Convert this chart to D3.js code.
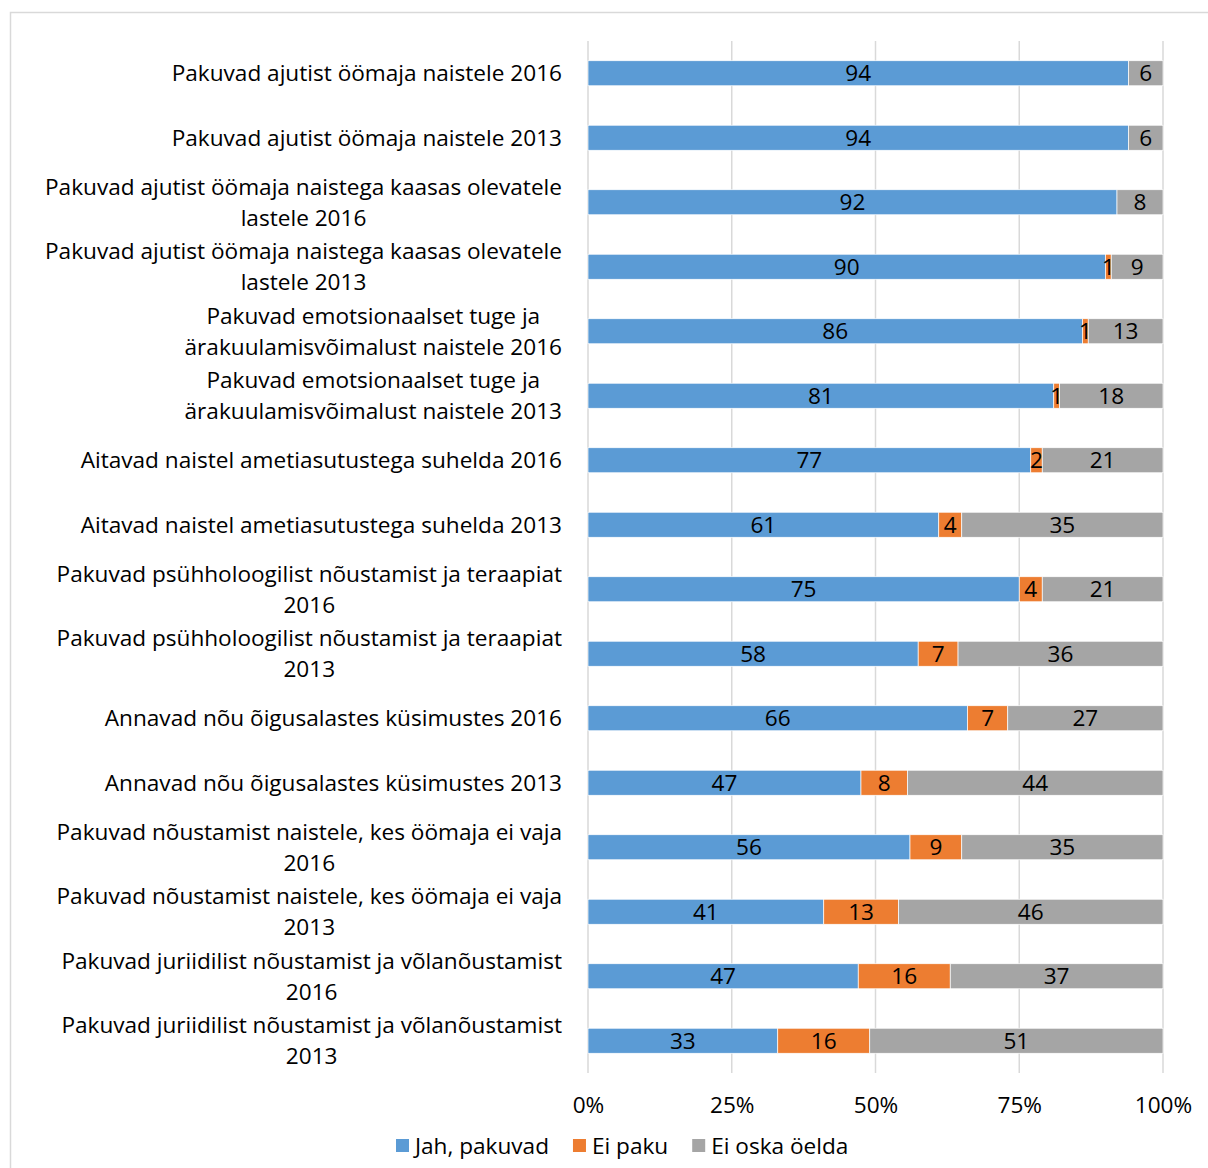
<!DOCTYPE html>
<html><head><meta charset="utf-8">
<script src="https://cdn.jsdelivr.net/npm/d3@7"></script>
<style>body{margin:0;background:#fff} svg{display:block} text{font-family:"Open Sans", Lato, sans-serif;fill:#000}</style>
</head><body><svg id="c" width="1208" height="1168"></svg>
<script>
const categories = [
  "Pakuvad ajutist öömaja naistele 2016",
  "Pakuvad ajutist öömaja naistele 2013",
  "Pakuvad ajutist öömaja naistega kaasas olevatele\nlastele 2016",
  "Pakuvad ajutist öömaja naistega kaasas olevatele\nlastele 2013",
  "Pakuvad emotsionaalset tuge ja\närakuulamisvõimalust naistele 2016",
  "Pakuvad emotsionaalset tuge ja\närakuulamisvõimalust naistele 2013",
  "Aitavad naistel ametiasutustega suhelda 2016",
  "Aitavad naistel ametiasutustega suhelda 2013",
  "Pakuvad psühholoogilist nõustamist ja teraapiat\n2016",
  "Pakuvad psühholoogilist nõustamist ja teraapiat\n2013",
  "Annavad nõu õigusalastes küsimustes 2016",
  "Annavad nõu õigusalastes küsimustes 2013",
  "Pakuvad nõustamist naistele, kes öömaja ei vaja\n2016",
  "Pakuvad nõustamist naistele, kes öömaja ei vaja\n2013",
  "Pakuvad juriidilist nõustamist ja võlanõustamist\n2016",
  "Pakuvad juriidilist nõustamist ja võlanõustamist\n2013"
];
const jahPakuvad = [94, 94, 92, 90, 86, 81, 77, 61, 75, 58, 66, 47, 56, 41, 47, 33];
const eiPaku     = [ 0,  0,  0,  1,  1,  1,  2,  4,  4,  7,  7,  8,  9, 13, 16, 16];
const eiOskaOelda= [ 6,  6,  8,  9, 13, 18, 21, 35, 21, 36, 27, 44, 35, 46, 37, 51];
const seriesNames = ["Jah, pakuvad", "Ei paku", "Ei oska öelda"];
const seriesColors = ["#5B9BD5", "#ED7D31", "#A5A5A5"];
const tickValues = [0, 0.25, 0.5, 0.75, 1];

const svg = d3.select("#c");
const FS = 22.6;

// chart border (extends past the canvas on right and bottom)
svg.append("rect").attr("x", 10.5).attr("y", 12.5).attr("width", 1300).attr("height", 1300)
  .attr("fill", "none").attr("stroke", "#d9d9d9").attr("stroke-width", 1.5);

const rows = categories.map((c, i) => ({cat: c, "Jah, pakuvad": jahPakuvad[i], "Ei paku": eiPaku[i], "Ei oska öelda": eiOskaOelda[i]}));
const stacked = d3.stack().keys(seriesNames).offset(d3.stackOffsetExpand)(rows);

const x = d3.scaleLinear().domain([0, 1]).range([588, 1163]);
const y = d3.scaleBand().domain(categories).range([41, 1073]).paddingInner(0.612).paddingOuter(0.306);

// gridlines
svg.append("g").selectAll("line").data(tickValues).join("line")
  .attr("x1", d => x(d)).attr("x2", d => x(d)).attr("y1", 41).attr("y2", 1073)
  .attr("stroke", "#d9d9d9").attr("stroke-width", 1.5);

// bars
const layers = svg.append("g").selectAll("g").data(stacked).join("g")
  .attr("fill", (d, i) => seriesColors[i]);
layers.selectAll("rect").data(d => d).join("rect")
  .attr("x", d => x(d[0])).attr("width", d => Math.max(0, x(d[1]) - x(d[0])))
  .attr("y", d => y(d.data.cat)).attr("height", y.bandwidth())
  .attr("stroke", "#fff").attr("stroke-width", 0.7);

// value labels
stacked.forEach((layer, si) => {
  svg.append("g").selectAll("text").data(layer.filter(d => d.data[layer.key] > 0)).join("text")
    .attr("x", d => (x(d[0]) + x(d[1])) / 2)
    .attr("y", d => y(d.data.cat) + y.bandwidth() / 2)
    .attr("dy", "0.36em").attr("text-anchor", "middle").attr("font-size", FS)
    .text(d => d.data[layer.key]);
});

// category labels
const labelRight = 562, lineH = 31;
categories.forEach(c => {
  const lines = c.split("\n");
  const g = svg.append("g");
  const cy = y(c) + y.bandwidth() / 2;
  const texts = lines.map((ln, k) => g.append("text").attr("font-size", FS).attr("text-anchor", "middle")
    .attr("y", cy + (k - (lines.length - 1) / 2) * lineH).attr("dy", "0.36em").text(ln));
  const maxW = d3.max(texts, t => t.node().getComputedTextLength());
  texts.forEach(t => t.attr("x", labelRight - maxW / 2));
});

// x axis
const ax = svg.append("g").attr("transform", "translate(0,1073)")
  .call(d3.axisBottom(x).tickValues(tickValues).tickFormat(d3.format(".0%")).tickSize(0).tickPadding(24));
ax.select(".domain").remove();
ax.selectAll("text").attr("font-size", FS).attr("font-family", "'Open Sans', sans-serif").attr("fill", "#000");

// legend
let lx = 396;
const leg = svg.append("g");
seriesNames.forEach((n, i) => {
  leg.append("rect").attr("x", lx).attr("y", 1139).attr("width", 13).attr("height", 13).attr("fill", seriesColors[i]);
  const t = leg.append("text").attr("x", lx + 19).attr("y", 1145.5).attr("dy", "0.36em").attr("font-size", FS).text(n);
  lx += 19 + t.node().getComputedTextLength() + 24;
});
</script></body></html>
